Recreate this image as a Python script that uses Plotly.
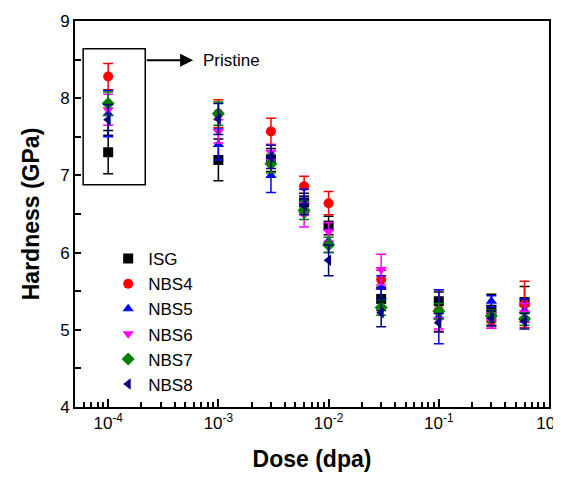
import numpy as np
import plotly.graph_objects as go

dose = [1e-4, 1e-3, 3e-3, 6e-3, 1e-2, 3e-2, 1e-1, 3e-1, 6e-1]

series_names = ["ISG", "NBS4", "NBS5", "NBS6", "NBS7", "NBS8"]
isg = [7.30, 7.20, 7.20, 6.65, 6.35, 5.40, 5.37, 5.26, 5.36]
isg_err = [0.28, 0.27, 0.15, 0.12, 0.12, 0.15, 0.12, 0.20, 0.20]
nbs4 = [8.28, 7.80, 7.57, 6.86, 6.64, 5.65, 5.25, 5.12, 5.33]
nbs4_err = [0.17, 0.18, 0.17, 0.13, 0.15, 0.12, 0.27, 0.10, 0.30]
nbs5 = [7.80, 7.40, 7.00, 6.67, 6.15, 5.55, 5.17, 5.37, 5.25]
nbs5_err = [0.30, 0.20, 0.22, 0.15, 0.15, 0.15, 0.35, 0.07, 0.15]
nbs6 = [7.85, 7.57, 7.30, 6.49, 6.27, 5.78, 5.13, 5.12, 5.22]
nbs6_err = [0.20, 0.15, 0.10, 0.16, 0.12, 0.20, 0.12, 0.10, 0.12]
nbs7 = [7.93, 7.80, 7.15, 6.55, 6.10, 5.29, 5.24, 5.18, 5.14]
nbs7_err = [0.15, 0.15, 0.12, 0.12, 0.10, 0.10, 0.10, 0.08, 0.08]
nbs8 = [7.72, 7.73, 7.24, 6.61, 5.90, 5.22, 5.09, 5.15, 5.11]
nbs8_err = [0.20, 0.20, 0.15, 0.12, 0.20, 0.18, 0.12, 0.10, 0.10]

values = [isg, nbs4, nbs5, nbs6, nbs7, nbs8]
errors = [isg_err, nbs4_err, nbs5_err, nbs6_err, nbs7_err, nbs8_err]
colors = ["#000000", "#FF0000", "#0000FF", "#FF00FF", "#008000", "#000080"]
symbols = ["square", "circle", "triangle-up", "triangle-down", "diamond", "triangle-left"]

tick_vals = [1e-4, 1e-3, 1e-2, 1e-1, 1e0]
tick_text = ["10<sup>-4</sup>", "10<sup>-3</sup>", "10<sup>-2</sup>", "10<sup>-1</sup>", "10<sup>0</sup>"]
minor_vals = [m * 10.0 ** p for p in range(-5, 0) for m in range(2, 10)]

x_range = [np.log10(5e-5), 0]

fig = go.Figure()
for name, v, e, c, s in zip(series_names, values, errors, colors, symbols):
    fig.add_trace(go.Scatter(
        x=dose, y=v, mode="markers", name=name,
        marker=dict(symbol=s, color=c, size=10, line=dict(width=0)),
        error_y=dict(type="data", array=e, visible=True, color=c, thickness=1.5, width=5),
    ))

# invisible helper trace so the minor-tick overlay axis is drawn
fig.add_trace(go.Scatter(x=[dose[0]], y=[isg[0]], xaxis="x2", mode="markers",
                         marker=dict(opacity=0), showlegend=False, hoverinfo="skip"))

font_family = "Liberation Sans, Arial, sans-serif"

fig.update_layout(
    width=561, height=478,
    margin=dict(l=67, r=20, t=13, b=79),
    plot_bgcolor="white", paper_bgcolor="white",
    font=dict(family=font_family, size=17, color="black"),
    showlegend=True,
    legend=dict(x=0.07, y=0.43, xanchor="left", yanchor="top",
                bgcolor="rgba(0,0,0,0)", font=dict(size=17), itemwidth=30,
                tracegroupgap=0),
    xaxis=dict(
        type="log", range=x_range, automargin=False,
        tickmode="array", tickvals=tick_vals, ticktext=tick_text,
        ticklabeloverflow="allow",
        ticks="inside", ticklen=8, tickwidth=2, tickcolor="black",
        showline=True, linewidth=2, linecolor="black", mirror=True,
        showgrid=False, zeroline=False,
        title=dict(text="<b>Dose (dpa)</b>", font=dict(size=23), standoff=18),
        tickfont=dict(size=17),
    ),
    xaxis2=dict(
        type="log", range=x_range, overlaying="x", anchor="y", side="bottom",
        automargin=False, tickmode="array", tickvals=minor_vals,
        ticktext=[""] * len(minor_vals),
        ticks="inside", ticklen=5, tickwidth=1.5, tickcolor="black",
        showticklabels=True, showline=False, showgrid=False, zeroline=False,
    ),
    yaxis=dict(
        range=[4, 9], tickmode="linear", tick0=4, dtick=0.5, automargin=False,
        ticks="inside", ticklen=6, tickwidth=2, tickcolor="black",
        ticktext=None,
        showline=True, linewidth=2, linecolor="black", mirror=True,
        showgrid=False, zeroline=False,
        title=dict(text="<b>Hardness (GPa)</b>", font=dict(size=23), standoff=14),
        tickfont=dict(size=17),
    ),
)

# y tick labels only on whole numbers
fig.update_yaxes(tickmode="array",
                 tickvals=[4, 4.5, 5, 5.5, 6, 6.5, 7, 7.5, 8, 8.5, 9],
                 ticktext=["4", "", "5", "", "6", "", "7", "", "8", "", "9"])

# Pristine box
fig.add_shape(type="rect", xref="x", yref="y",
              x0=5.93e-5, x1=2.17e-4, y0=6.88, y1=8.64,
              line=dict(color="black", width=1.5), fillcolor="rgba(0,0,0,0)")

# Arrow
fig.add_annotation(x=np.log10(5.9e-4), y=8.49, ax=np.log10(2.17e-4), ay=8.49,
                   xref="x", yref="y", axref="x", ayref="y",
                   text="", showarrow=True, arrowhead=2, arrowsize=1.3,
                   arrowwidth=2, arrowcolor="black")
fig.add_annotation(x=np.log10(7.0e-4), y=8.49, xref="x", yref="y",
                   text="Pristine", showarrow=False, xanchor="left",
                   font=dict(size=17, color="black"))

fig.write_html("out.html")
